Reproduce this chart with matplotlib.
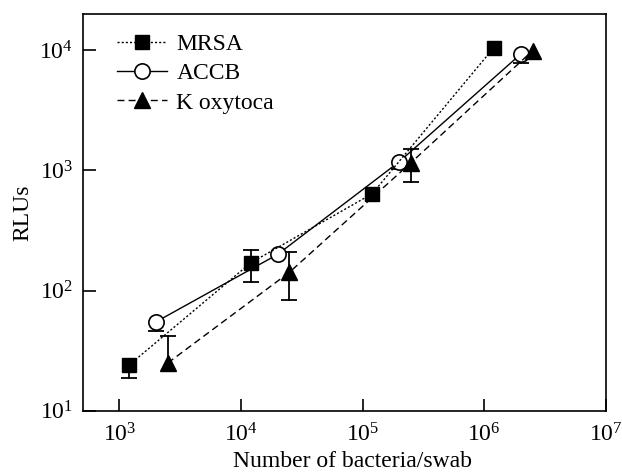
import matplotlib
matplotlib.use('Agg')
import matplotlib.pyplot as plt

plt.rcParams['font.family'] = ['Liberation Serif', 'DejaVu Serif']
plt.rcParams['mathtext.fontset'] = 'stix'

# bacteria per swab and RLU readings; error bar ends (None = hidden by marker)
mrsa_x = [1.2e3, 1.2e4, 1.2e5, 1.2e6]
mrsa_y = [24, 170, 640, 10500]
mrsa_lo = [18.6, 118, None, None]
mrsa_hi = [None, 217, None, None]

accb_x = [2.0e3, 2.0e4, 2.0e5, 2.0e6]
accb_y = [55, 200, 1180, 9300]
accb_lo = [46, None, 1020, 7900]
accb_hi = [None, None, None, None]

kox_x = [2.5e3, 2.5e4, 2.5e5, 2.5e6]
kox_y = [25, 142, 1160, 9900]
kox_lo = [None, 84, 795, None]
kox_hi = [42, 209, 1500, None]

fig = plt.figure(figsize=(6.22, 4.75), dpi=100)
ax = fig.add_axes([0.133, 0.135, 0.841, 0.8355])


def errbars(xs, ys, los, his):
    for x, y, lo, hi in zip(xs, ys, los, his):
        for end in (lo, hi):
            if end is None:
                continue
            ax.plot([x, x], [y, end], color='black', lw=1.3, zorder=1)
            ax.plot([x], [end], ls='none', marker='_', ms=12, mew=1.3,
                    color='black', zorder=1)


errbars(mrsa_x, mrsa_y, mrsa_lo, mrsa_hi)
errbars(accb_x, accb_y, accb_lo, accb_hi)
errbars(kox_x, kox_y, kox_lo, kox_hi)

ax.plot(mrsa_x, mrsa_y, ls=(0, (1.5, 1.5)), marker='s', color='black', ms=10.5,
        lw=1, label='MRSA', zorder=3)
ax.plot(accb_x, accb_y, ls='-', marker='o', color='black', mfc='white', ms=11,
        mew=1.2, lw=1, label='ACCB', zorder=2)
ax.plot(kox_x, kox_y, ls=(0, (5, 3)), marker='^', color='black', ms=12,
        lw=1, label='K oxytoca', zorder=3)

ax.set_xscale('log')
ax.set_yscale('log')
ax.set_xlim(5e2, 1e7)
ax.set_ylim(10, 2e4)
ax.set_xticks([1e3, 1e4, 1e5, 1e6, 1e7])
ax.set_yticks([1e1, 1e2, 1e3, 1e4])
ax.minorticks_off()
ax.tick_params(direction='in', length=9, width=1.2, labelsize=17, pad=7,
               top=False, right=False)
ax.tick_params(axis='x', pad=9)
for s in ax.spines.values():
    s.set_linewidth(1.2)

ax.set_xlabel('Number of bacteria/swab', fontsize=17)
ax.xaxis.set_label_coords(0.515, -0.1)
ax.set_ylabel('RLUs', fontsize=17, labelpad=4)

ax.legend(loc='upper left', bbox_to_anchor=(0.048, 0.975), frameon=False,
          fontsize=17, handlelength=2.1, handletextpad=0.4, labelspacing=0.33,
          borderaxespad=0.0)

fig.savefig('out.png', dpi=100)
